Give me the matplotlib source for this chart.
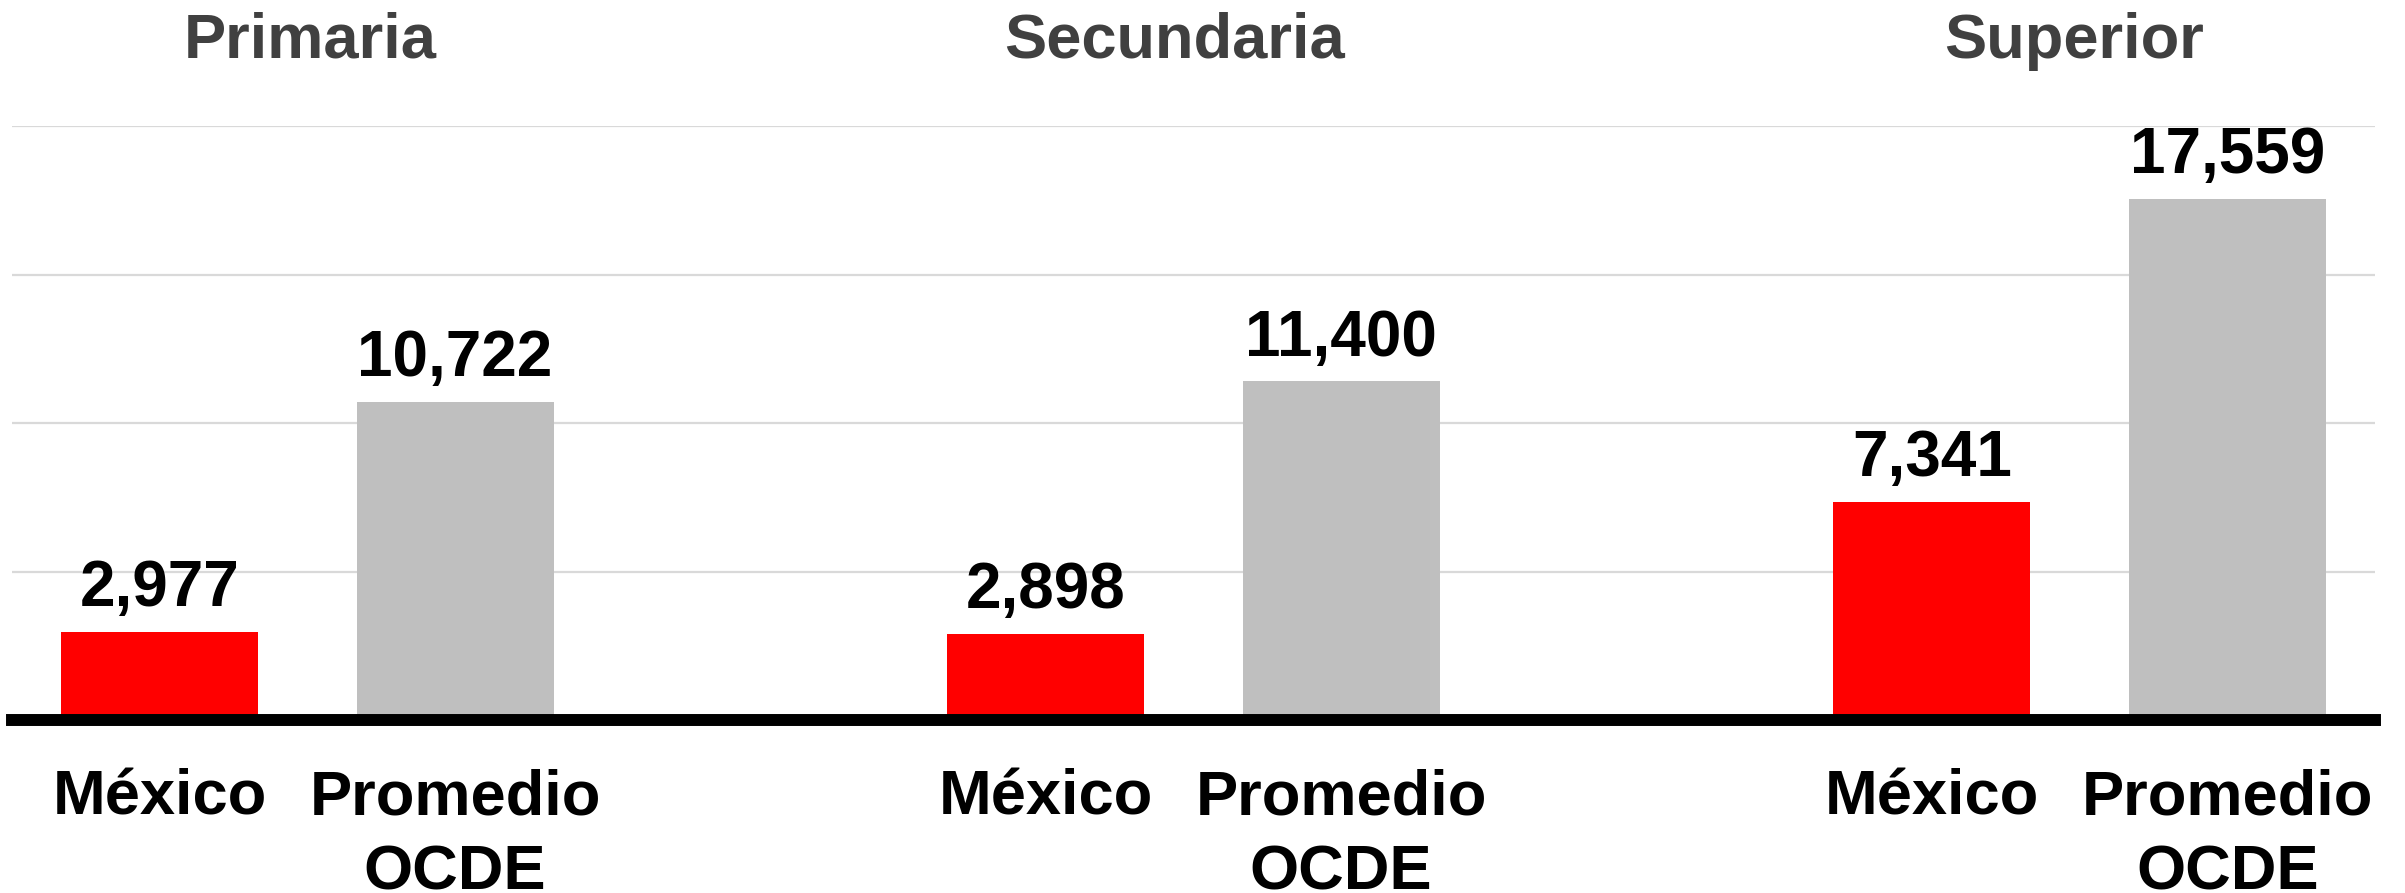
import numpy as np
import matplotlib
matplotlib.use("Agg")
import matplotlib.pyplot as plt
import matplotlib.transforms as mtransforms

# Data
niveles = ["Primaria", "Secundaria", "Superior"]
mexico = [2977, 2898, 7341]
ocde = [10722, 11400, 17559]
etiquetas = ["México", "Promedio\nOCDE"]

plt.rcParams['font.family'] = ['Liberation Sans', 'DejaVu Sans']
plt.rcParams['font.weight'] = 'bold'

fig = plt.figure(figsize=(24.05, 8.93), dpi=100)
ax = fig.add_axes([0.005, 0.1937, 0.9825, 0.6652])

grupos = np.arange(len(niveles)) * 3
x_mex = grupos
x_ocde = grupos + 1
ancho = 0.667

b1 = ax.bar(x_mex, mexico, width=ancho, color='#ff0000', zorder=2)
b2 = ax.bar(x_ocde, ocde, width=ancho, color='#bfbfbf', zorder=2)

# value labels
for barras, vals in [(b1, mexico), (b2, ocde)]:
    for b, v in zip(barras, vals):
        ax.annotate(f"{v:,}", (b.get_x() + b.get_width() / 2, v),
                    xytext=(0, 18.5), textcoords='offset points',
                    ha='center', va='baseline', fontsize=46,
                    fontweight='bold', color='black')

ax.set_xlim(-0.5, 7.5)
ax.set_ylim(0, 20000)
ax.set_yticks([5000, 10000, 15000, 20000])
ax.yaxis.grid(True, color='#d9d9d9', lw=1.6, zorder=0)
ax.set_axisbelow(True)
ax.tick_params(axis='y', left=False, labelleft=False)

# x labels
ticks = list(x_mex) + list(x_ocde)
labels = [etiquetas[0]] * 3 + [etiquetas[1]] * 3
ax.set_xticks(ticks)
ax.set_xticklabels(labels, fontsize=45.5, fontweight='bold', linespacing=1.34)
ax.tick_params(axis='x', length=0, pad=35)

for s in ['top', 'right', 'left', 'bottom']:
    ax.spines[s].set_visible(False)
ax.axhline(0, color='black', lw=8.6, zorder=3, clip_on=False)

# group titles (slightly shifted like the original text boxes)
trans = mtransforms.blended_transform_factory(ax.transData, fig.transFigure)
desplaz = [0.01, -0.065, -0.02]
for g, nombre, d in zip(grupos, niveles, desplaz):
    ax.text(g + 0.5 + d, 1 - 58 / 893, nombre, transform=trans, ha='center',
            va='baseline', fontsize=45.5, fontweight='bold', color='#404040')

fig.savefig("out.png", dpi=100)
